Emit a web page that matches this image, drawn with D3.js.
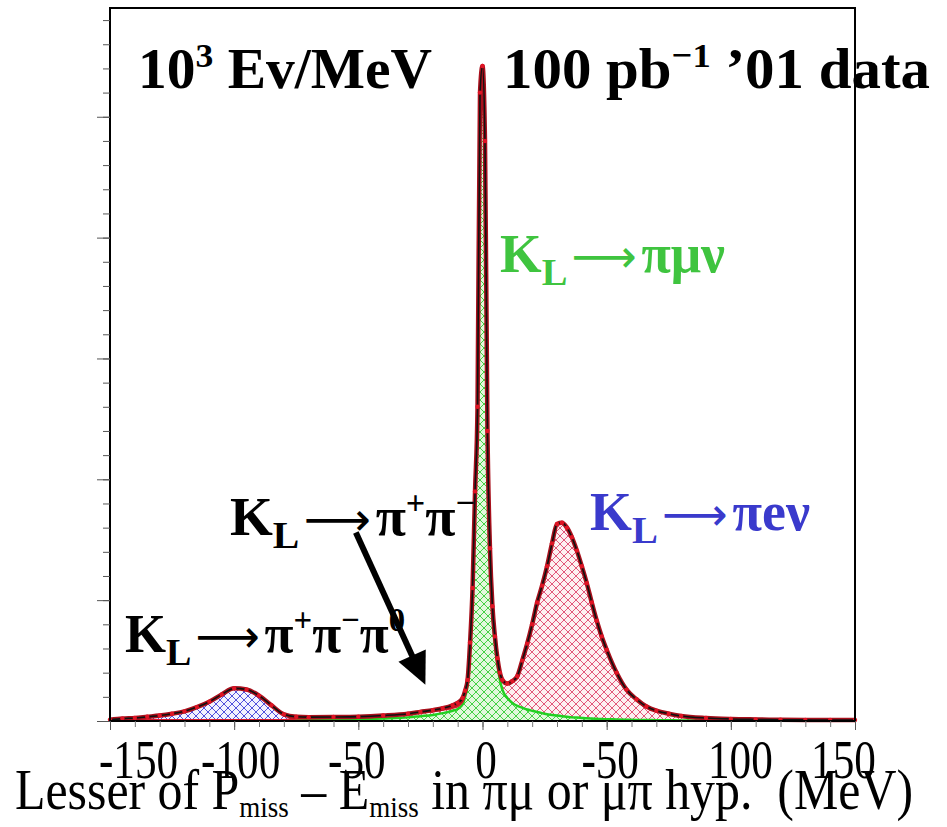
<!DOCTYPE html>
<html>
<head>
<meta charset="utf-8">
<script src="https://cdn.jsdelivr.net/npm/d3@7"></script>
<style>
  html, body { margin: 0; padding: 0; background: #fff; }
  svg { display: block; font-family: "Liberation Serif", "Times New Roman", serif; }
</style>
</head>
<body>
<div id="chart"></div>
<script>
// P_miss - E_miss (MeV), bin centres (finer near the peak)
const mev = [
  -150, -145, -140, -135, -130, -125, -120, -115, -110, -105,
  -100, -95, -90, -85, -80, -75, -70, -60, -50, -40,
  -30, -25, -20, -16, -12, -10, -8, -7, -6, -5,
  -4, -3, -2, -1, 0, 1, 2, 3, 4, 5,
  6, 7, 8, 10, 12, 14, 16, 18, 20, 22,
  24, 26, 28, 30, 32, 34, 36, 38, 40, 42,
  44, 46, 48, 50, 54, 58, 62, 66, 70, 75,
  80, 90, 100, 110, 120, 130, 140, 150
];

// MC components, 10^3 Ev/MeV
const kmu3 = [ // K_L -> pi mu nu (green)
  0.05, 0.05, 0.05, 0.05, 0.05, 0.05, 0.05, 0.05, 0.05, 0.05,
  0.05, 0.05, 0.05, 0.05, 0.05, 0.06, 0.07, 0.1, 0.13, 0.2,
  0.3, 0.4, 0.5, 0.65, 0.85, 1.0, 1.4, 2.0, 3.0, 6.1,
  10.6, 18.6, 25.5, 51.5, 53.7, 47.5, 23.5, 13.9, 9.0, 6.5,
  4.7, 3.4, 2.6, 1.9, 1.5, 1.25, 1.1, 0.95, 0.85, 0.75,
  0.65, 0.55, 0.5, 0.45, 0.4, 0.35, 0.3, 0.28, 0.25, 0.22,
  0.2, 0.18, 0.16, 0.15, 0.12, 0.1, 0.09, 0.08, 0.07, 0.06,
  0.05, 0.04, 0.04, 0.04, 0.04, 0.04, 0.04, 0.04
];
const ke3 = [ // K_L -> pi e nu (red)
  0.02, 0.02, 0.02, 0.02, 0.02, 0.02, 0.02, 0.02, 0.02, 0.02,
  0.02, 0.02, 0.02, 0.02, 0.02, 0.15, 0.18, 0.18, 0.18, 0.2,
  0.25, 0.3, 0.3, 0.3, 0.25, 0.25, 0.25, 0.25, 0.25, 0.25,
  0.25, 0.3, 0.3, 0.3, 0.4, 0.4, 0.4, 0.4, 0.5, 0.5,
  0.5, 0.6, 0.8, 1.2, 1.8, 2.45, 3.9, 5.45, 7.15, 9.05,
  10.55, 12.25, 14.2, 15.85, 16.0, 15.65, 14.9, 13.82, 12.55, 11.18,
  9.6, 8.12, 6.84, 5.75, 3.88, 2.5, 1.71, 1.12, 0.78, 0.54,
  0.37, 0.21, 0.13, 0.09, 0.06, 0.05, 0.04, 0.04
];
const k3pi = [ // K_L -> pi+ pi- pi0 (blue)
  0.03, 0.13, 0.18, 0.28, 0.38, 0.53, 0.73, 1.08, 1.53, 2.13,
  2.63, 2.53, 2.03, 1.23, 0.48, 0.14, 0.07, 0.05, 0.05, 0.05,
  0.05, 0.05, 0.05, 0, 0, 0, 0, 0, 0, 0,
  0, 0, 0, 0, 0, 0, 0, 0, 0, 0,
  0, 0, 0, 0, 0, 0, 0, 0, 0, 0,
  0, 0, 0, 0, 0, 0, 0, 0, 0, 0,
  0, 0, 0, 0, 0, 0, 0, 0, 0, 0,
  0, 0, 0, 0, 0, 0, 0, 0
];
const kpipi = [ // K_L -> pi+ pi- (blue)
  0, 0, 0, 0, 0, 0, 0, 0, 0, 0,
  0, 0, 0, 0, 0, 0, 0, 0, 0, 0,
  0, 0, 0.05, 0.1, 0.2, 0.25, 0.25, 0.25, 0.15, 0.15,
  0.15, 0.1, 0.1, 0.1, 0.1, 0.1, 0.1, 0, 0, 0,
  0, 0, 0, 0, 0, 0, 0, 0, 0, 0,
  0, 0, 0, 0, 0, 0, 0, 0, 0, 0,
  0, 0, 0, 0, 0, 0, 0, 0, 0, 0,
  0, 0, 0, 0, 0, 0, 0, 0
];
// '01 data
const data01 = [
  0.1, 0.2, 0.25, 0.35, 0.45, 0.6, 0.8, 1.15, 1.6, 2.2,
  2.7, 2.6, 2.1, 1.3, 0.55, 0.35, 0.32, 0.33, 0.36, 0.45,
  0.6, 0.75, 0.9, 1.05, 1.3, 1.5, 1.9, 2.5, 3.4, 6.5,
  11, 19, 26, 52, 54.2, 48, 24, 14.3, 9.5, 7,
  5.2, 4.0, 3.4, 3.1, 3.3, 3.7, 5.0, 6.4, 8.0, 9.8,
  11.2, 12.8, 14.7, 16.3, 16.4, 16.0, 15.2, 14.1, 12.8, 11.4,
  9.8, 8.3, 7.0, 5.9, 4.0, 2.6, 1.8, 1.2, 0.85, 0.6,
  0.42, 0.25, 0.17, 0.13, 0.1, 0.09, 0.08, 0.08
];

const xMajor = [-150, -100, -50, 0, 50, 100, 150];
const xLabels = ['-150', '-100', '-50', '0', '-50', '100', '150'];
const arrowFrom = [-51, 15.6];
const arrowTo = [-23, 3.0];

(function(){
  const W = 947, H = 827;
  const frame = {left: 110, right: 855, top: 8, bottom: 721};
  const serif = '"Liberation Serif", "Times New Roman", serif';

  const svg = d3.select('#chart').append('svg')
    .attr('width', W)
    .attr('height', H);

  const x = d3.scaleLinear().domain([-150, 150]).range([frame.left, frame.right]);
  const y = d3.scaleLinear().domain([0, 59]).range([frame.bottom, frame.top]);

  // crosshatch fills
  const defs = svg.append('defs');
  function hatch(id, bg, fg){
    const p = defs.append('pattern')
      .attr('id', id)
      .attr('patternUnits', 'userSpaceOnUse')
      .attr('width', 8).attr('height', 8);
    p.append('rect').attr('width', 8).attr('height', 8).attr('fill', bg);
    p.append('path')
      .attr('d', 'M0,0L8,8M8,0L0,8')
      .attr('stroke', fg).attr('stroke-width', 1).attr('fill', 'none');
  }
  hatch('hGreen', '#e2f8dc', '#45d045');
  hatch('hRed', '#fdf0f1', '#e2587a');
  hatch('hBlue', '#f3f3ff', '#5252dc');

  const table = mev.map((m, i) => ({
    mev: m, kmu3: kmu3[i], ke3: ke3[i], k3pi: k3pi[i], kpipi: kpipi[i]
  }));
  const keys = ['kmu3', 'ke3', 'k3pi', 'kpipi'];
  const fills = {kmu3: 'url(#hGreen)', ke3: 'url(#hRed)', k3pi: 'url(#hBlue)', kpipi: 'url(#hBlue)'};
  const series = d3.stack().keys(keys)(table);

  const area = d3.area()
    .x(d => x(d.data.mev))
    .y0(d => y(d[0]))
    .y1(d => y(d[1]))
    .curve(d3.curveMonotoneX);

  const g = svg.append('g');
  g.selectAll('path.layer').data(series).enter().append('path')
    .attr('class', 'layer')
    .attr('d', area)
    .attr('fill', d => fills[d.key]);

  const top = d3.line()
    .x(d => x(d.data.mev))
    .y(d => y(d[1]))
    .curve(d3.curveMonotoneX);

  // component outlines
  g.append('path').attr('d', top(series[0]))
    .attr('fill', 'none').attr('stroke', '#22d022').attr('stroke-width', 2.5);
  g.append('path').attr('d', top(series[1]))
    .attr('fill', 'none').attr('stroke', '#d81c2c').attr('stroke-width', 2.5);

  // data (dark red) under MC total (black)
  const dataLine = d3.line()
    .x((d, i) => x(mev[i]))
    .y(d => y(d))
    .curve(d3.curveMonotoneX);
  g.append('path').attr('d', dataLine(data01))
    .attr('fill', 'none').attr('stroke', '#a8101c').attr('stroke-width', 4.5);
  g.append('path').attr('d', top(series[series.length - 1]))
    .attr('fill', 'none').attr('stroke', '#111').attr('stroke-width', 1.6);
  g.selectAll('circle.pt').data(data01).enter().append('circle')
    .attr('class', 'pt')
    .attr('cx', (d, i) => x(mev[i]))
    .attr('cy', d => y(d))
    .attr('r', 2.2)
    .attr('fill', '#e01424');

  // labels: parts carry their own baseline shift
  function label(px, py, color, size, parts, width){
    const t = svg.append('text')
      .attr('x', px).attr('y', py)
      .attr('fill', color)
      .attr('font-size', size)
      .attr('font-weight', 'bold')
      .style('white-space', 'pre');
    let prev = 0;
    parts.forEach(p => {
      const off = p.sub ? size * 0.24 : (p.sup ? -size * 0.38 : 0);
      const s = t.append('tspan').text(p.t).attr('dy', off - prev);
      prev = off;
      if (p.sub) s.attr('font-size', size * 0.72);
      if (p.sup) s.attr('font-size', size * 0.62);
      if (p.dx) s.attr('dx', p.dx);
      if (p.arrow) s.attr('font-family', '"DejaVu Sans", sans-serif')
        .attr('font-weight', 'normal').attr('font-size', size * 0.85);
    });
    if (width) t.attr('textLength', width).attr('lengthAdjust', 'spacingAndGlyphs');
    return t;
  }
  const S = 54;
  const arrow = {t: '\u27f6', arrow: true, dx: 4};
  label(138, 88, '#000', 56, [{t: '10'}, {t: '3', sup: true}, {t: ' Ev/MeV'}], 294);
  label(503, 88, '#000', 56, [{t: '100 pb'}, {t: '\u22121', sup: true}, {t: ' \u201901 data'}], 427);
  label(500, 272, '#3fc43f', S, [{t: 'K'}, {t: 'L', sub: true}, arrow, {t: '\u03c0\u03bc\u03bd', dx: 5}], 225);
  label(590, 530, '#3a3acc', S, [{t: 'K'}, {t: 'L', sub: true}, arrow, {t: '\u03c0e\u03bd', dx: 5}], 220);
  label(230, 535, '#000', S, [{t: 'K'}, {t: 'L', sub: true}, arrow, {t: '\u03c0', dx: 5},
    {t: '+', sup: true}, {t: '\u03c0'}, {t: '\u2212', sup: true}], 245);
  label(125, 652, '#000', S, [{t: 'K'}, {t: 'L', sub: true}, arrow, {t: '\u03c0', dx: 5},
    {t: '+', sup: true}, {t: '\u03c0'}, {t: '\u2212', sup: true},
    {t: '\u03c0'}, {t: '0', sup: true}], 280);

  // arrow
  const p0 = [x(arrowFrom[0]), y(arrowFrom[1])];
  const p1 = [x(arrowTo[0]), y(arrowTo[1])];
  const dx = p1[0] - p0[0], dy = p1[1] - p0[1];
  const len = Math.hypot(dx, dy), ux = dx / len, uy = dy / len;
  const headL = 32, headW = 15;
  const base = [p1[0] - ux * headL, p1[1] - uy * headL];
  svg.append('line')
    .attr('x1', p0[0]).attr('y1', p0[1])
    .attr('x2', base[0] + ux * 2).attr('y2', base[1] + uy * 2)
    .attr('stroke', '#000').attr('stroke-width', 6);
  svg.append('path')
    .attr('d', `M${p1[0]},${p1[1]}L${base[0] - uy * headW},${base[1] + ux * headW}L${base[0] + uy * headW},${base[1] - ux * headW}Z`)
    .attr('fill', '#000');

  // frame
  svg.append('rect')
    .attr('x', frame.left).attr('y', frame.top)
    .attr('width', frame.right - frame.left)
    .attr('height', frame.bottom - frame.top)
    .attr('fill', 'none').attr('stroke', '#000').attr('stroke-width', 2);

  // y axis: minor + major ticks, no labels
  svg.append('g').attr('transform', `translate(${frame.left},0)`)
    .call(d3.axisLeft(y).tickValues(d3.range(0, 59, 2)).tickSize(7).tickFormat(''))
    .call(a => a.select('.domain').remove())
    .selectAll('line').attr('stroke', '#555');
  svg.append('g').attr('transform', `translate(${frame.left},0)`)
    .call(d3.axisLeft(y).tickValues(d3.range(0, 51, 10)).tickSize(13).tickFormat(''))
    .call(a => a.select('.domain').remove())
    .selectAll('line').attr('stroke', '#555');

  // x axis
  svg.append('g').attr('transform', `translate(0,${frame.bottom})`)
    .call(d3.axisBottom(x).tickValues(d3.range(-150, 151, 10)).tickSize(6).tickFormat(''))
    .call(a => a.select('.domain').remove())
    .selectAll('line').attr('stroke', '#777');
  const xa = svg.append('g').attr('transform', `translate(0,${frame.bottom})`)
    .call(d3.axisBottom(x).tickValues(xMajor).tickSize(9)
      .tickFormat((d, i) => xLabels[i]))
    .call(a => a.select('.domain').remove());
  xa.selectAll('line').attr('stroke', '#555');
  const shifts = [28, 6, -2, 3, 3, 9, -12];
  xa.selectAll('text')
    .attr('font-family', serif)
    .attr('font-size', 54)
    .attr('fill', '#000')
    .attr('y', 0).attr('dy', 0)
    .attr('transform', (d, i) => `translate(${shifts[i]},57) scale(0.8,1)`);

  // x title: tall, narrow serif like the reference
  const t = svg.append('text')
    .attr('x', 0).attr('y', 0)
    .attr('transform', 'translate(15,809) scale(1,1.17)')
    .attr('font-size', 48)
    .attr('fill', '#000')
    .attr('textLength', 898)
    .attr('lengthAdjust', 'spacingAndGlyphs')
    .style('white-space', 'pre');
  t.append('tspan').text('Lesser of P');
  t.append('tspan').text('miss').attr('font-size', 26).attr('dy', 7);
  t.append('tspan').text(' \u2013 E').attr('dy', -7);
  t.append('tspan').text('miss').attr('font-size', 26).attr('dy', 7);
  t.append('tspan').text(' in \u03c0\u03bc or \u03bc\u03c0 hyp.  (MeV)').attr('dy', -7);
})();
</script>
</body>
</html>
